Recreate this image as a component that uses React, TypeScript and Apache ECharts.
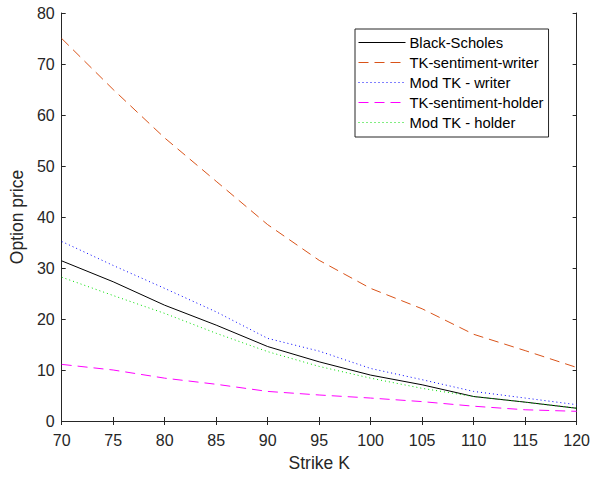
import React, { useEffect, useRef } from "react";
import * as echarts from "echarts";

const strikes = [70, 75, 80, 85, 90, 95, 100, 105, 110, 115, 120];
const blackScholes = [31.4, 27.3, 22.7, 18.8, 14.6, 11.6, 9.0, 7.1, 4.8, 3.7, 2.5];
const tkWriter = [75, 65, 55.5, 47, 38.5, 31.5, 26, 22, 17, 13.8, 10.5];
const modTkWriter = [35.2, 30.5, 26, 21.4, 16.2, 13.7, 10.3, 8.1, 5.8, 4.5, 3.2];
const tkHolder = [11.1, 10.0, 8.4, 7.2, 5.8, 5.1, 4.5, 3.8, 2.9, 2.2, 1.9];
const modTkHolder = [28.2, 24.6, 21.1, 17.2, 13.6, 10.7, 8.4, 6.4, 4.8, 3.7, 2.5];

const seriesNames = [
  "Black-Scholes",
  "TK-sentiment-writer",
  "Mod TK - writer",
  "TK-sentiment-holder",
  "Mod TK - holder",
];

export default function App() {
  const ref = useRef<HTMLDivElement>(null);
  useEffect(() => {
    if (!ref.current) return;
    const chart = echarts.init(ref.current, undefined, { renderer: "svg" });
    const axisColor = "#262626";
    const font = "Arial, 'Liberation Sans', sans-serif";
    const pair = (ys: number[]) => strikes.map((x, i) => [x, ys[i]]);
    const mk = (name: string, data: number[], color: string, type: any) => ({
      name,
      type: "line",
      data: pair(data),
      symbol: "none",
      showSymbol: false,
      lineStyle: { color, width: 1, type },
      itemStyle: { color },
    });
    chart.setOption({
      animation: false,
      backgroundColor: "#ffffff",
      grid: { left: 60, right: 13, top: 13, bottom: 54 },
      legend: {
        orient: "vertical",
        left: 355,
        top: 29,
        padding: [6, 5, 7, 3],
        borderColor: axisColor,
        borderWidth: 1,
        backgroundColor: "#fff",
        itemWidth: 47,
        itemHeight: 14,
        itemGap: 5,
        data: seriesNames,
        itemStyle: { opacity: 0 },
        lineStyle: { width: 1 },
        textStyle: { fontFamily: font, fontSize: 14.8, color: "#000", padding: [0, 0, 0, -1] },
      },
      xAxis: [
        {
          type: "value",
          min: 70,
          max: 120,
          interval: 5,
          name: "Strike K",
          nameLocation: "middle",
          nameGap: 33,
          nameTextStyle: { fontFamily: font, fontSize: 17.5, color: axisColor },
          axisLine: { lineStyle: { color: axisColor } },
          axisTick: { inside: true, length: 4, lineStyle: { color: axisColor } },
          axisLabel: { fontFamily: font, fontSize: 16, color: axisColor, margin: 11.5 },
          splitLine: { show: false },
        },
        {
          type: "value",
          position: "top",
          min: 70,
          max: 120,
          interval: 5,
          axisLine: { show: true, lineStyle: { color: axisColor } },
          axisTick: { show: true, inside: true, length: 4, lineStyle: { color: axisColor } },
          axisLabel: { show: false },
          splitLine: { show: false },
        },
      ],
      yAxis: [
        {
          type: "value",
          min: 0,
          max: 80,
          interval: 10,
          name: "Option price",
          nameLocation: "middle",
          nameGap: 32,
          nameTextStyle: { fontFamily: font, fontSize: 17.5, color: axisColor },
          axisLine: { show: true, lineStyle: { color: axisColor } },
          axisTick: { show: true, inside: true, length: 4, lineStyle: { color: axisColor } },
          axisLabel: { fontFamily: font, fontSize: 16, color: axisColor, margin: 7 },
          splitLine: { show: false },
        },
        {
          type: "value",
          position: "right",
          min: 0,
          max: 80,
          interval: 10,
          axisLine: { show: true, lineStyle: { color: axisColor } },
          axisTick: { show: true, inside: true, length: 4, lineStyle: { color: axisColor } },
          axisLabel: { show: false },
          splitLine: { show: false },
        },
      ],
      series: [
        mk(seriesNames[0], blackScholes, "#000000", "solid"),
        mk(seriesNames[1], tkWriter, "#D95319", [10, 6]),
        mk(seriesNames[2], modTkWriter, "#0000FF", [1, 3]),
        mk(seriesNames[3], tkHolder, "#FF00FF", [10, 6]),
        mk(seriesNames[4], modTkHolder, "#00DD00", [1, 3]),
      ],
    });
    return () => chart.dispose();
  }, []);
  return <div ref={ref} style={{ width: 593, height: 477, position: "absolute", left: 0, top: 0 }} />;
}
